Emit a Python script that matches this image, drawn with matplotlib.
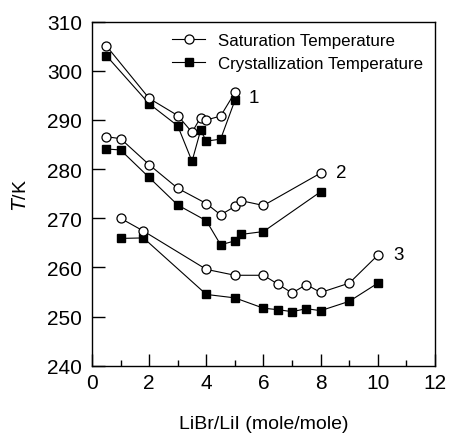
import matplotlib
matplotlib.use("Agg")
from matplotlib import pyplot as plt
from matplotlib.ticker import MultipleLocator

plt.rcParams["font.family"] = ["Liberation Sans", "DejaVu Sans"]

# curve 1
x1 = [0.5, 2, 3, 3.5, 3.8, 4, 4.5, 5]
sat1 = [305.1, 294.4, 290.9, 287.5, 290.5, 290.0, 290.8, 295.6]
cry1 = [303.1, 293.3, 288.8, 281.6, 287.9, 285.7, 286.1, 294.0]
# curve 2
x2 = [0.5, 1, 2, 3, 4, 4.5, 5, 5.2, 6, 8]
sat2 = [286.6, 286.2, 280.9, 276.1, 273.0, 270.7, 272.4, 273.6, 272.6, 279.2]
cry2 = [284.1, 283.9, 278.3, 272.7, 269.5, 264.6, 265.4, 266.7, 267.3, 275.4]
# curve 3
x3 = [1, 1.8, 4, 5, 6, 6.5, 7, 7.5, 8, 9, 10]
sat3 = [270.0, 267.4, 259.6, 258.4, 258.4, 256.6, 254.8, 256.5, 254.9, 256.8, 262.5]
cry3 = [265.9, 266.0, 254.5, 253.8, 251.7, 251.4, 251.0, 251.6, 251.2, 253.1, 256.8]

curveLabels = ["1", "2", "3"]
labelPos = [(5.65, 294.5), (8.72, 279.4), (10.72, 262.6)]

fig = plt.figure(figsize=(4.5, 4.39), dpi=100)
ax = fig.add_axes([0.2044, 0.1647, 0.7623, 0.7836])

openStyle = dict(color="black", lw=0.8, marker="o", ms=6.5, mfc="white", mec="black", mew=0.9)
fillStyle = dict(color="black", lw=0.8, marker="s", ms=5.4, mfc="black", mec="black")

for i, (xs, sat, cry) in enumerate([(x1, sat1, cry1), (x2, sat2, cry2), (x3, sat3, cry3)]):
    ax.plot(xs, sat, label="Saturation Temperature" if i == 0 else None, zorder=3, **openStyle)
    ax.plot(xs, cry, label="Crystallization Temperature" if i == 0 else None, zorder=2, **fillStyle)

for lbl, (lx, ly) in zip(curveLabels, labelPos):
    ax.text(lx, ly, lbl, fontsize=13.5, ha="center", va="center")

ax.set_xlim(0, 12)
ax.set_ylim(240, 310)
ax.xaxis.set_major_locator(MultipleLocator(2))
ax.xaxis.set_minor_locator(MultipleLocator(1))
ax.yaxis.set_major_locator(MultipleLocator(10))
ax.tick_params(which="major", direction="in", length=9, width=1, labelsize=15)
ax.tick_params(axis="y", pad=7)
ax.tick_params(axis="x", pad=5)
ax.tick_params(which="minor", direction="in", length=4.5, width=1)
ax.tick_params(top=False, right=False)
for sp in ax.spines.values():
    sp.set_linewidth(1)

ax.set_xlabel("LiBr/LiI (mole/mole)", fontsize=14, labelpad=17)
ax.set_ylabel("$\\it{T}$/K", fontsize=14, labelpad=12)

ax.legend(loc="upper left", bbox_to_anchor=(0.232, 0.966), frameon=False, fontsize=12.2,
          handlelength=2.0, handletextpad=0.75, borderpad=0, borderaxespad=0, labelspacing=0.42)

fig.savefig("out.png", dpi=100)
